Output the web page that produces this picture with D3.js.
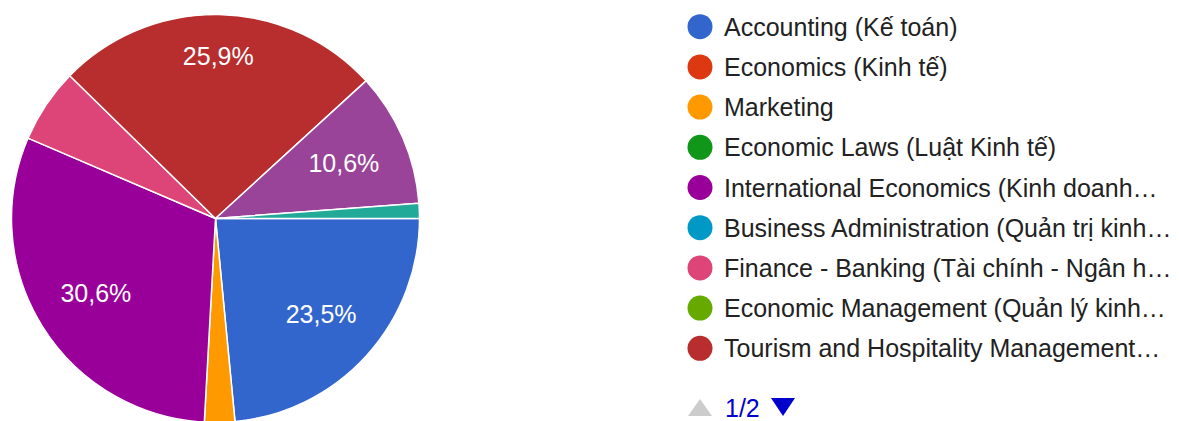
<!DOCTYPE html>
<meta charset="utf-8">
<style>
  body { margin: 0; background: #fff; }
  text { font-family: Arial, "Liberation Sans", sans-serif; }
</style>
<body>
<script src="https://d3js.org/d3.v7.min.js"></script>
<script>
var width = 1179,
    height = 421;

// answers in data order, percentages
var categories = [
  "Accounting (Kế toán)",
  "Economics (Kinh tế)",
  "Marketing",
  "Economic Laws (Luật Kinh tế)",
  "International Economics (Kinh doanh quốc tế)",
  "Business Administration (Quản trị kinh doanh)",
  "Finance - Banking (Tài chính - Ngân hàng)",
  "Economic Management (Quản lý kinh tế)",
  "Tourism and Hospitality Management (Quản trị dịch vụ du lịch và lữ hành)",
  "Other 1",
  "Other 2",
  "Other 3"
];
var values = [23.5, 0, 2.4, 0, 30.6, 0, 5.9, 0, 25.9, 0, 10.6, 1.2];
var colors = ["#3366cc", "#dc3912", "#ff9900", "#109618", "#990099", "#0099c6",
              "#dd4477", "#66aa00", "#b82e2e", "#316395", "#994499", "#22aa99"];
var legendPage = "1/2";
var legendCount = 9;

var cx = 215.5, cy = 218.5, radius = 204;
var fontSize = 25;

var svg = d3.select("body").append("svg")
    .attr("width", width)
    .attr("height", height);

var data = values.map(function(v, i) { return {name: categories[i], value: v, color: colors[i]}; });

var pie = d3.pie()
    .sort(null)
    .value(function(d) { return d.value; })
    .startAngle(Math.PI / 2)
    .endAngle(Math.PI / 2 + 2 * Math.PI);

var arc = d3.arc().innerRadius(0).outerRadius(radius);

var g = svg.append("g").attr("transform", "translate(" + cx + "," + cy + ")");
var arcs = pie(data).filter(function(d) { return d.data.value > 0; });

g.selectAll("path.slice")
  .data(arcs)
  .enter().append("path")
    .attr("class", "slice")
    .attr("d", arc)
    .attr("fill", function(d) { return d.data.color; })
    .attr("stroke", "#fff")
    .attr("stroke-width", 1.5)
    .attr("stroke-linejoin", "round");

var fmt = function(v) { return d3.format(".1f")(v).replace(".", ",") + "%"; };
var total = d3.sum(values);

// slice labels: keep the far corner of the text box at a fixed radius
var labelR = radius * 0.865;
arcs.filter(function(d) { return d.data.value / total > 0.08; }).forEach(function(d) {
  var t = g.append("text")
      .attr("fill", "#fff")
      .attr("font-size", fontSize)
      .attr("text-anchor", "middle")
      .attr("dominant-baseline", "central")
      .text(fmt(d.data.value / total * 100));
  var bb = t.node().getBBox();
  var hw = bb.width / 2, hh = 10;
  var a = (d.startAngle + d.endAngle) / 2;
  var ux = Math.sin(a), uy = -Math.cos(a);
  var b = Math.abs(ux) * hw + Math.abs(uy) * hh;
  var c = hw * hw + hh * hh - labelR * labelR;
  var dist = -b + Math.sqrt(b * b - c);
  t.attr("x", dist * ux).attr("y", dist * uy);
});

// legend
var lx = 700, ly = 26.7, step = 40.2, maxW = 451;
var legend = svg.append("g");
data.slice(0, legendCount).forEach(function(d, i) {
  var y = ly + i * step;
  legend.append("circle")
      .attr("cx", lx).attr("cy", y).attr("r", 12.5)
      .attr("fill", d.color);
  var t = legend.append("text")
      .attr("x", lx + 24).attr("y", y)
      .attr("dominant-baseline", "central")
      .attr("font-size", fontSize)
      .attr("fill", "#222")
      .text(d.name);
  var s = d.name;
  if (t.node().getComputedTextLength() > maxW) {
    while (s.length && t.text(s + "…").node().getComputedTextLength() > maxW) {
      s = s.slice(0, -1);
    }
    t.text(s.replace(/\s+$/, "") + "…");
  }
});

// pager
var py = 408;
legend.append("path")
    .attr("d", d3.line()([[688, py + 8], [712, py + 8], [700, py - 9]]))
    .attr("fill", "#cccccc");
legend.append("text")
    .attr("x", 725).attr("y", py)
    .attr("dominant-baseline", "central")
    .attr("font-size", fontSize)
    .attr("fill", "#0000cc")
    .text(legendPage);
legend.append("path")
    .attr("d", d3.line()([[771, py - 10], [795, py - 10], [783, py + 8]]))
    .attr("fill", "#0000cc");
</script>
</body>
